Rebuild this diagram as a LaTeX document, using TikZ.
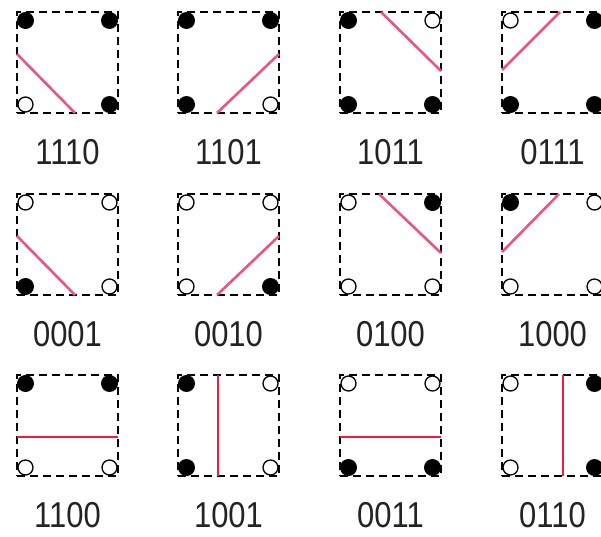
\documentclass[tikz,border=0pt]{standalone}
\usepackage{fontspec}
\setmainfont{Liberation Sans}
\definecolor{diagred}{RGB}{236,84,130}
\definecolor{flatred}{RGB}{240,28,62}
\definecolor{labgray}{RGB}{35,35,35}
\tikzset{
  x=1pt, y=-1pt,
  cellbox/.style={draw=black, line width=1.6pt, dash pattern=on 8pt off 5pt,
    minimum width=101pt, minimum height=101pt, inner sep=0pt, outer sep=0pt},
  fullpt/.style={circle, fill=black, minimum size=17pt, inner sep=0pt},
  openpt/.style={circle, draw=black, line width=1.3pt, minimum size=15pt, inner sep=0pt},
  lbl/.style={font=\fontsize{36}{40}\selectfont, text=labgray, inner sep=0pt},
  cutline/.style={line width=2.6pt, draw=diagred},
  flatline/.style={line width=2.6pt, draw=flatred},
}
% #1 x, #2 y, #3 name, #4 TL, #5 TR, #6 BR, #7 BL, #8 label
\newcommand{\mycell}[8]{%
  \begin{scope}[shift={(#1,#2)}]
    \node[cellbox, anchor=north west] (#3) at (0,0) {};
    \node[#4] (#3-tl) at (8.5,8.5) {};
    \node[#5] (#3-tr) at (92.5,8.5) {};
    \node[#6] (#3-br) at (92.5,92.5) {};
    \node[#7] (#3-bl) at (8.5,92.5) {};
    \node[lbl] (#3-lab) at (50.5,140.5) {\scalebox{0.86}[1]{#8}};
  \end{scope}}
\begin{document}
\begin{tikzpicture}
\useasboundingbox (0,0) rectangle (601,536);
% row 1
\mycell{17}{12}{a}{fullpt}{fullpt}{fullpt}{openpt}{1110}
\mycell{178}{12}{b}{fullpt}{fullpt}{openpt}{fullpt}{1101}
\mycell{340}{12}{c}{fullpt}{openpt}{fullpt}{fullpt}{1011}
\mycell{502}{12}{d}{openpt}{fullpt}{fullpt}{fullpt}{0111}
% row 2
\mycell{17}{194}{e}{openpt}{openpt}{openpt}{fullpt}{0001}
\mycell{178}{194}{f}{openpt}{openpt}{fullpt}{openpt}{0010}
\mycell{340}{194}{g}{openpt}{fullpt}{openpt}{openpt}{0100}
\mycell{502}{194}{h}{fullpt}{openpt}{openpt}{openpt}{1000}
% row 3
\mycell{17}{375}{i}{fullpt}{fullpt}{openpt}{openpt}{1100}
\mycell{178}{375}{j}{fullpt}{openpt}{openpt}{fullpt}{1001}
\mycell{340}{375}{k}{openpt}{openpt}{fullpt}{fullpt}{0011}
\mycell{502}{375}{l}{openpt}{fullpt}{fullpt}{openpt}{0110}
% cut lines
\begin{scope}[shift={(17,12)}]\draw[cutline] (0,42) -- (58,101);\end{scope}
\begin{scope}[shift={(178,12)}]\draw[cutline] (39,101) -- (101,42);\end{scope}
\begin{scope}[shift={(340,12)}]\draw[cutline] (41,0) -- (101,59);\end{scope}
\begin{scope}[shift={(502,12)}]\draw[cutline] (0,58) -- (58,0);\end{scope}
\begin{scope}[shift={(17,194)}]\draw[cutline] (0,42) -- (58,101);\end{scope}
\begin{scope}[shift={(178,194)}]\draw[cutline] (39,101) -- (101,42);\end{scope}
\begin{scope}[shift={(340,194)}]\draw[cutline] (39,0) -- (101,59);\end{scope}
\begin{scope}[shift={(502,194)}]\draw[cutline] (0,58) -- (57,0);\end{scope}
\begin{scope}[shift={(17,375)}]\draw[flatline] (0,62) -- (101,62);\end{scope}
\begin{scope}[shift={(178,375)}]\draw[flatline] (40,0) -- (40,101);\end{scope}
\begin{scope}[shift={(340,375)}]\draw[flatline] (0,62) -- (101,62);\end{scope}
\begin{scope}[shift={(502,375)}]\draw[flatline] (61,0) -- (61,101);\end{scope}
\end{tikzpicture}
\end{document}
